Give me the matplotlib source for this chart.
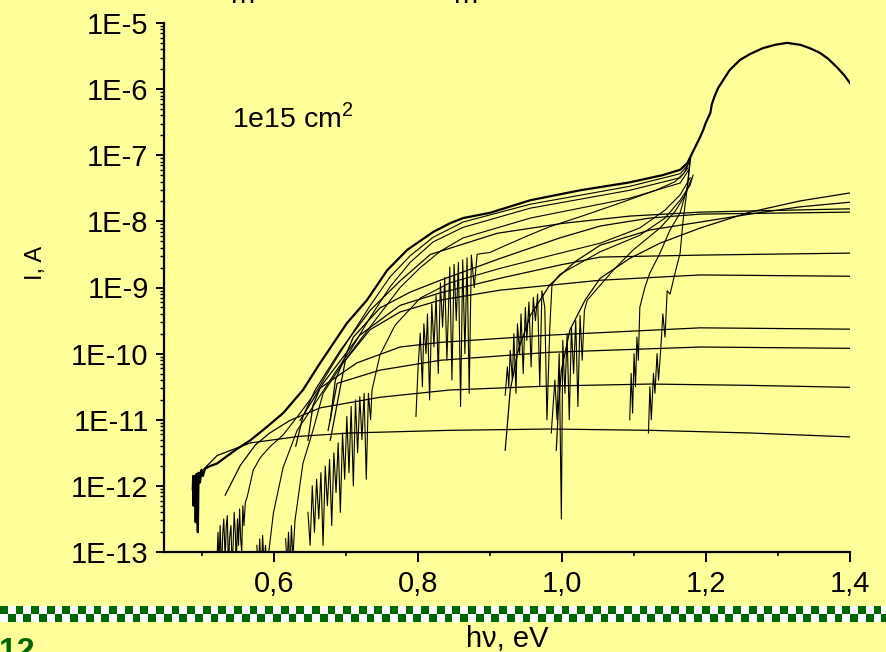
"""Photocurrent spectra I(hv) with fitted curves, 1e15 cm^2."""
import numpy as np
import matplotlib
matplotlib.use("Agg")
import matplotlib.pyplot as plt
from matplotlib.colors import ListedColormap
from matplotlib.ticker import FixedLocator, FuncFormatter, LogLocator, NullFormatter

plt.rcParams["font.family"] = ["Liberation Sans", "DejaVu Sans"]
plt.rcParams["mathtext.fontset"] = "custom"
plt.rcParams["mathtext.rm"] = "Liberation Sans"

BG = "#FFFF99"
GREEN = "#006600"

# measured spectra: photon energy (eV) and log10 of current (A)
env_x = [0.4870, 0.4875, 0.4880, 0.4885, 0.4890, 0.4900, 0.4910, 0.4920, 0.4940,
         0.4950, 0.4970, 0.4990, 0.5010, 0.5040, 0.511, 0.521, 0.532, 0.546,
         0.567, 0.5875, 0.6125, 0.640, 0.664, 0.685, 0.701, 0.729, 0.757, 0.785,
         0.821, 0.844, 0.8625, 0.900, 0.956, 1.025, 1.094, 1.140, 1.164, 1.174,
         1.178, 1.1875, 1.192, 1.196, 1.200, 1.206, 1.208, 1.2125, 1.217, 1.224,
         1.233, 1.247, 1.261, 1.279, 1.296, 1.3125, 1.331, 1.344, 1.358, 1.3695,
         1.382, 1.392, 1.400]
env_lg = [-12.05, -11.85, -12.30, -11.90, -12.10, -11.85, -12.55, -11.82, -12.70,
          -11.80, -11.95, -11.76, -11.85, -11.74, -11.70, -11.66, -11.57, -11.46,
          -11.31, -11.13, -10.90, -10.55, -10.14, -9.80, -9.54, -9.19, -8.74, -8.43,
          -8.16, -8.03, -7.95, -7.87, -7.68, -7.53, -7.41, -7.30, -7.22, -7.12,
          -7.03, -6.82, -6.72, -6.62, -6.50, -6.36, -6.23, -6.09, -5.98, -5.86,
          -5.71, -5.56, -5.47, -5.38, -5.33, -5.30, -5.33, -5.38, -5.45, -5.54,
          -5.67, -5.79, -5.91]

m2_x = [0.520, 0.522, 0.5235, 0.525, 0.527, 0.5285, 0.530, 0.532, 0.5335, 0.535,
        0.5365, 0.538, 0.540, 0.5415, 0.543, 0.5445, 0.546, 0.5475, 0.549, 0.5505,
        0.552, 0.5535, 0.555, 0.5565, 0.558, 0.560, 0.5625, 0.571, 0.581, 0.594,
        0.6125, 0.636, 0.660, 0.685, 0.706, 0.733, 0.761, 0.789, 0.821, 0.8625,
        0.956, 1.094, 1.164, 1.174]
m2_lg = [-13.3, -12.7, -13.2, -12.6, -13.3, -12.75, -12.5, -13.1, -12.6, -12.45,
         -13.3, -12.8, -12.6, -13.2, -12.9, -12.4, -12.7, -13.2, -12.5, -12.9,
         -12.35, -12.8, -13.0, -12.3, -12.6, -12.25, -12.17, -11.76, -11.57, -11.41,
         -11.23, -10.90, -10.55, -10.10, -9.74, -9.28, -8.84, -8.52, -8.24, -8.01,
         -7.74, -7.47, -7.28, -7.16]

m3_x = [0.576, 0.578, 0.580, 0.582, 0.584, 0.586, 0.588, 0.590, 0.592, 0.599,
        0.6125, 0.632, 0.660, 0.685, 0.706, 0.733, 0.761, 0.789, 0.821, 0.8625,
        0.956, 1.094, 1.164, 1.175]
m3_lg = [-12.9, -13.3, -12.8, -13.4, -12.75, -13.2, -12.9, -13.3, -13.05, -12.41,
         -11.72, -11.16, -10.70, -10.28, -9.95, -9.46, -8.99, -8.62, -8.31, -8.09,
         -7.80, -7.53, -7.34, -7.19]

m4_x = [0.616, 0.618, 0.620, 0.622, 0.624, 0.626, 0.629, 0.640, 0.654, 0.668,
        0.692, 0.719, 0.747, 0.775, 0.803, 0.831, 0.8625, 0.956, 1.094, 1.164, 1.176]
m4_lg = [-12.8, -13.2, -12.7, -13.3, -12.6, -13.1, -12.52, -11.66, -11.16, -10.60,
         -10.20, -9.80, -9.40, -9.00, -8.70, -8.45, -8.25, -7.95, -7.65, -7.42, -7.22]

m5_x = [0.647, 0.650, 0.653, 0.656, 0.659, 0.662, 0.665, 0.668, 0.671, 0.674,
        0.677, 0.680, 0.683, 0.686, 0.689, 0.692, 0.695, 0.698, 0.701, 0.704,
        0.707, 0.710, 0.713, 0.716, 0.719, 0.722, 0.725, 0.728, 0.731, 0.734,
        0.736, 0.747, 0.768, 0.803, 0.844, 0.914, 0.983, 1.053, 1.108, 1.143,
        1.164, 1.178]
m5_lg = [-12.4, -12.9, -12.0, -12.7, -11.9, -12.5, -11.8, -12.9, -11.7, -12.3,
         -11.6, -12.6, -11.5, -12.1, -11.35, -12.4, -11.2, -11.9, -10.95, -11.8,
         -10.8, -12.0, -10.7, -11.5, -10.65, -11.3, -10.6, -11.9, -10.6, -11.0,
         -10.55, -10.02, -9.57, -9.16, -8.93, -8.71, -8.52, -8.33, -8.10, -7.83,
         -7.60, -7.34]

m6_x = [0.797, 0.800, 0.803, 0.806, 0.808, 0.811, 0.813, 0.816, 0.819, 0.822,
        0.825, 0.828, 0.831, 0.834, 0.837, 0.840, 0.844, 0.847, 0.850, 0.853,
        0.856, 0.859, 0.862, 0.865, 0.868, 0.871, 0.874, 0.878, 0.882, 0.886,
        0.900, 0.914, 0.935, 0.956, 0.983, 1.025, 1.060, 1.094, 1.130, 1.157,
        1.170, 1.176]
m6_lg = [-10.95, -10.2, -9.69, -10.5, -9.55, -10.0, -9.40, -10.7, -9.25, -9.9,
         -9.12, -10.3, -8.93, -9.6, -8.85, -10.1, -8.69, -10.4, -8.65, -9.5,
         -8.62, -10.8, -8.58, -10.0, -8.55, -10.6, -8.51, -9.0, -8.50, -8.49,
         -8.47, -8.40, -8.30, -8.20, -8.08, -7.93, -7.80, -7.67, -7.53, -7.40,
         -7.26, -7.12]

m7_x = [0.921, 0.924, 0.926, 0.928, 0.931, 0.933, 0.936, 0.938, 0.941, 0.943,
        0.946, 0.949, 0.951, 0.954, 0.957, 0.960, 0.963, 0.966, 0.969, 0.972,
        0.976, 0.979, 0.983, 0.986, 0.997, 1.053, 1.108, 1.143, 1.164, 1.178, 1.182]
m7_lg = [-10.63, -10.2, -10.5, -9.95, -10.4, -9.7, -10.6, -9.55, -10.0, -9.40,
         -10.3, -9.30, -9.8, -9.22, -10.2, -9.15, -9.5, -9.10, -10.5, -9.05,
         -9.3, -11.0, -9.6, -8.95, -8.80, -8.46, -8.21, -7.95, -7.68, -7.45, -7.30]

m8_x = [0.985, 0.990, 0.993, 0.996, 0.999, 1.001, 1.004, 1.007, 1.010, 1.013,
        1.016, 1.019, 1.022, 1.025, 1.028, 1.031, 1.035, 1.071, 1.099, 1.136,
        1.157, 1.171, 1.180]
m8_lg = [-11.2, -10.4, -11.0, -10.0, -12.5, -9.8, -10.6, -9.70, -11.0, -9.60,
         -10.3, -9.50, -10.8, -9.42, -10.1, -9.35, -9.19, -8.74, -8.43, -8.10,
         -7.85, -7.60, -7.35]

m9_x = [1.094, 1.096, 1.098, 1.100, 1.102, 1.104, 1.106, 1.108, 1.115, 1.122,
        1.136, 1.150, 1.164, 1.174, 1.178]
m9_lg = [-11.0, -10.3, -10.9, -10.0, -10.5, -9.75, -10.1, -9.30, -9.00, -8.78,
         -8.48, -8.13, -7.87, -7.48, -7.03]

m10_x = [1.120, 1.122, 1.124, 1.127, 1.129, 1.132, 1.134, 1.137, 1.140, 1.143,
         1.146, 1.150, 1.157, 1.164, 1.168, 1.175, 1.179]
m10_lg = [-11.2, -10.5, -11.0, -10.3, -10.6, -10.0, -10.4, -9.95, -9.4, -9.75,
          -9.05, -9.10, -8.78, -8.48, -8.0, -7.40, -7.00]

# fitted curves
fit1_x = [0.992, 0.995, 0.999, 1.011, 1.032, 1.053, 1.094, 1.136, 1.192, 1.261, 1.331, 1.400]
fit1_lg = [-11.46, -10.80, -10.25, -9.64, -9.19, -8.86, -8.56, -8.33, -8.10, -7.86, -7.69, -7.57]
fit2_x = [0.921, 0.928, 0.939, 0.956, 0.983, 1.018, 1.053, 1.122, 1.192, 1.261, 1.331, 1.400]
fit2_lg = [-11.46, -10.55, -9.95, -9.42, -8.96, -8.61, -8.36, -8.13, -8.01, -7.89, -7.78, -7.71]
fit3_x = [0.630, 0.640, 0.657, 0.692, 0.733, 0.775, 0.817, 0.910, 1.001, 1.094, 1.192, 1.400]
fit3_lg = [-11.40, -10.95, -10.55, -9.95, -9.35, -8.90, -8.50, -8.18, -8.03, -7.92, -7.86, -7.81]
fit4_x = [0.678, 0.685, 0.710, 0.747, 0.789, 0.831, 0.914, 0.997, 1.053, 1.122, 1.192, 1.400]
fit4_lg = [-11.01, -10.40, -9.75, -9.31, -9.07, -8.89, -8.56, -8.25, -8.07, -7.95, -7.89, -7.86]
fit5_x = [0.636, 0.668, 0.719, 0.775, 0.831, 0.914, 0.997, 1.053, 1.192, 1.400]
fit5_lg = [-11.01, -10.45, -9.72, -9.27, -9.08, -8.86, -8.66, -8.54, -8.51, -8.48]
fit6_x = [0.678, 0.699, 0.733, 0.775, 0.831, 0.914, 1.053, 1.192, 1.400]
fit6_lg = [-11.31, -10.10, -9.64, -9.37, -9.19, -9.04, -8.89, -8.81, -8.83]
fit7_x = [0.647, 0.654, 0.664, 0.715, 0.775, 0.831, 0.983, 1.192, 1.400]
fit7_lg = [-11.31, -10.78, -10.52, -10.14, -9.90, -9.83, -9.72, -9.61, -9.63]
fit8_x = [0.675, 0.6875, 0.747, 0.831, 0.983, 1.192, 1.400]
fit8_lg = [-11.16, -10.45, -10.25, -10.10, -9.98, -9.90, -9.92]
fit9_x = [0.532, 0.553, 0.574, 0.594, 0.622, 0.664, 0.747, 0.844, 0.983, 1.122, 1.261, 1.400]
fit9_lg = [-12.14, -11.69, -11.38, -11.20, -11.01, -10.82, -10.66, -10.55, -10.49, -10.46, -10.48, -10.51]
fit10_x = [0.490, 0.521, 0.567, 0.636, 0.706, 0.844, 0.983, 1.122, 1.261, 1.400]
fit10_lg = [-11.88, -11.54, -11.35, -11.25, -11.20, -11.16, -11.14, -11.16, -11.20, -11.26]

x_major = [0.6, 0.8, 1.0, 1.2, 1.4]
x_minor = [0.5, 0.7, 0.9, 1.1, 1.3]
x_labels = ["0,6", "0,8", "1,0", "1,2", "1,4"]

measured = [(m2_x, m2_lg), (m3_x, m3_lg), (m4_x, m4_lg), (m5_x, m5_lg),
            (m6_x, m6_lg), (m7_x, m7_lg), (m8_x, m8_lg), (m9_x, m9_lg),
            (m10_x, m10_lg)]
fits = [(fit1_x, fit1_lg), (fit2_x, fit2_lg), (fit3_x, fit3_lg), (fit4_x, fit4_lg),
        (fit5_x, fit5_lg), (fit6_x, fit6_lg), (fit7_x, fit7_lg), (fit8_x, fit8_lg),
        (fit9_x, fit9_lg), (fit10_x, fit10_lg)]

W, H = 886, 652
fig = plt.figure(figsize=(W / 100, H / 100), dpi=100, facecolor=BG)
ax = fig.add_axes([164 / W, 1 - 552 / H, (850 - 164) / W, (552 - 23) / H])
ax.set_facecolor(BG)

for xs, lg in fits:
    ax.plot(xs, 10.0 ** np.array(lg), color="black", lw=0.9)
for xs, lg in measured:
    ax.plot(xs, 10.0 ** np.array(lg), color="black", lw=0.8)
ax.plot(env_x, 10.0 ** np.array(env_lg), color="black", lw=1.6)

ax.set_yscale("log")
ax.set_ylim(1e-13, 1e-5)
ax.set_xlim(0.447, 1.4)
ax.yaxis.set_major_locator(LogLocator(base=10, numticks=20))
ax.yaxis.set_minor_locator(LogLocator(base=10, subs=np.arange(2, 10), numticks=20))
ax.yaxis.set_major_formatter(FuncFormatter(lambda v, p: f"1E{int(round(np.log10(v)))}"))
ax.yaxis.set_minor_formatter(NullFormatter())
ax.xaxis.set_major_locator(FixedLocator(x_major))
ax.xaxis.set_minor_locator(FixedLocator(x_minor))
ax.set_xticklabels(x_labels)

for s in ("top", "right"):
    ax.spines[s].set_visible(False)
for s in ("left", "bottom"):
    ax.spines[s].set_linewidth(1.6)
ax.tick_params(axis="y", which="major", direction="out", length=6, width=1.4,
               labelsize=21, pad=5)
ax.tick_params(axis="y", which="minor", direction="out", length=3, width=1.0)
ax.tick_params(axis="x", which="major", direction="out", length=7, width=1.4,
               labelsize=21, pad=6)
ax.tick_params(axis="x", which="minor", direction="out", length=3, width=1.2)

ax.text(0.099, 0.82, "1e15 cm$^2$", transform=ax.transAxes, fontsize=20.5,
        va="center", ha="left")

fig.text(36 / W, 1 - 263 / H, "I, A", rotation=90, fontsize=17,
         ha="center", va="center")
fig.text(507 / W, 1 - 647 / H, "h\u03bd, eV", fontsize=21, ha="center",
         va="baseline")
fig.text(-1 / W, 1 - 637 / H, "12", fontsize=23, fontweight="bold",
         color=GREEN, ha="left", va="top")

# cut-off title at the top edge
for px in (242, 465):
    fig.text(px / W, 1 - 3 / H, "m", fontsize=21, ha="center", va="baseline")

# checkered band
band = fig.add_axes([0, 1 - 622 / H, 1, 16 / H])
n = 114
checks = np.indices((2, n)).sum(axis=0) % 2
band.imshow(checks, cmap=ListedColormap([GREEN, "white"]), aspect="auto",
            interpolation="nearest", extent=[0, n * 7.8, 0, 2])
band.set_xlim(0, W)
band.set_ylim(0, 2)
band.axis("off")

fig.savefig("out.png", dpi=100, facecolor=BG)
